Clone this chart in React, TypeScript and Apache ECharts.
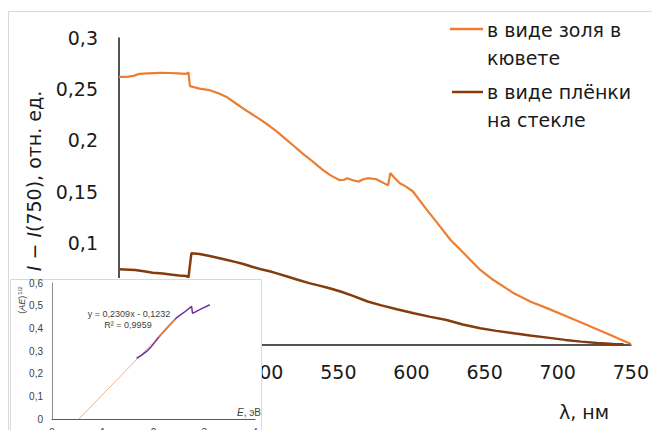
import React, { useEffect, useRef } from "react";
import * as echarts from "echarts";

// ---- main chart data ----
const solLambda = [400, 405, 410, 414, 420, 428, 435, 440, 446, 447.5, 448.5, 455, 462, 468, 474, 480, 485, 491, 497, 503, 508, 515, 520, 524, 531, 536, 540, 545, 551, 554, 556, 560, 564, 567, 570, 576, 584, 585.5, 588, 592, 596, 601, 610, 619.6, 626.7, 635.8, 647, 656, 670, 681.5, 693, 706.7, 720, 736, 750];
const solValues = [0.262, 0.262, 0.263, 0.265, 0.2655, 0.266, 0.2658, 0.2655, 0.265, 0.2665, 0.253, 0.2505, 0.249, 0.246, 0.242, 0.236, 0.231, 0.2255, 0.22, 0.214, 0.2085, 0.2, 0.194, 0.189, 0.181, 0.175, 0.1704, 0.1655, 0.161, 0.1615, 0.163, 0.161, 0.1597, 0.162, 0.163, 0.162, 0.156, 0.168, 0.164, 0.158, 0.155, 0.15, 0.133, 0.1157, 0.1026, 0.0896, 0.0733, 0.0635, 0.0505, 0.0423, 0.0358, 0.0277, 0.0196, 0.0098, 0.001];
const filmLambda = [400, 411, 417, 423, 430, 435, 441, 446, 447.5, 449.5, 455, 462, 468, 474, 480, 485, 491, 497, 503, 508, 515, 521.6, 530, 537, 544, 552, 560, 570, 578.8, 590, 601.6, 613, 624, 635, 647, 658, 670, 681, 693, 705, 716, 727, 738, 745];
const filmValues = [0.074, 0.0733, 0.072, 0.0707, 0.0698, 0.069, 0.068, 0.0674, 0.066, 0.0896, 0.089, 0.087, 0.085, 0.083, 0.081, 0.0792, 0.0765, 0.074, 0.072, 0.07, 0.067, 0.064, 0.0605, 0.058, 0.0554, 0.052, 0.048, 0.0425, 0.039, 0.035, 0.031, 0.0275, 0.0244, 0.02, 0.0163, 0.0138, 0.0114, 0.0093, 0.0072, 0.005, 0.0033, 0.002, 0.001, 0.0008];
const seriesNames = ["в виде золя в\nкювете", "в виде плёнки\nна стекле"];
const seriesColors = ["#ED7D31", "#843C0C"];
const yAxisTitle = "{it|I} − {it|I}(750), отн. ед.";
const xAxisTitle = "λ, нм";

// ---- inset data ----
const purpleE = [1.667, 1.76, 1.864, 1.95, 2.02, 2.09, 2.2, 2.3, 2.45, 2.6, 2.75, 2.77, 2.95, 3.11];
const purpleY = [0.268, 0.281, 0.298, 0.318, 0.337, 0.357, 0.385, 0.41, 0.446, 0.47, 0.497, 0.466, 0.487, 0.504];
const fitE = [2.1, 2.2, 2.3, 2.43];
const fitY = [0.362, 0.385, 0.41, 0.44];
const trendE = [0.53, 2.45];
const trendY = [0, 0.443];
const equationText = "y = 0,2309x - 0,1232";
const r2Text = "R² = 0,9959";
const insetYTitle = "({it|AE}){sup|1/2}";
const insetXTitle = "{it|E}, эВ";

const pairs = (xs: number[], ys: number[]) => xs.map((x, i) => [x, ys[i]]);
const comma = (v: number) => String(+(+v).toFixed(2)).replace(".", ",");

const MAIN_FONT = "DejaVu Sans";
const INSET_FONT = "Liberation Sans";

export default function App() {
  const mainRef = useRef<HTMLDivElement>(null);
  const insetRef = useRef<HTMLDivElement>(null);

  useEffect(() => {
    const main = echarts.init(mainRef.current!, null, { renderer: "svg" });
    main.setOption({
      animation: false,
      grid: { left: 119, right: 20, top: 38, bottom: 85 },
      xAxis: {
        type: "value",
        min: 400,
        max: 750,
        interval: 50,
        axisLine: { show: true, onZero: false, lineStyle: { color: "#1a1a1a", width: 1.5 } },
        axisTick: { show: false },
        splitLine: { show: false },
        axisLabel: { fontSize: 19, fontFamily: MAIN_FONT, color: "#1a1a1a", margin: 17 },
      },
      yAxis: {
        type: "value",
        min: 0,
        max: 0.3,
        interval: 0.05,
        axisLine: { show: true, onZero: false, lineStyle: { color: "#1a1a1a", width: 1.5 } },
        axisTick: { show: false },
        splitLine: { show: false },
        axisLabel: { fontSize: 19, fontFamily: MAIN_FONT, color: "#1a1a1a", margin: 21, formatter: comma },
      },
      series: [
        {
          type: "line",
          name: seriesNames[0],
          data: pairs(solLambda, solValues),
          symbol: "none",
          lineStyle: { color: seriesColors[0], width: 2.2 },
          itemStyle: { color: seriesColors[0] },
        },
        {
          type: "line",
          name: seriesNames[1],
          data: pairs(filmLambda, filmValues),
          symbol: "none",
          lineStyle: { color: seriesColors[1], width: 2.5 },
          itemStyle: { color: seriesColors[1] },
        },
      ],
      graphic: [
        {
          type: "rect",
          silent: true,
          shape: { x: 8.5, y: 11.5, width: 700, height: 500 },
          style: { fill: "none", stroke: "#d9d9d9", lineWidth: 1 },
        },
        {
          type: "line",
          shape: { x1: 450, y1: 29, x2: 483, y2: 29 },
          style: { stroke: seriesColors[0], lineWidth: 2.5 },
        },
        {
          type: "text",
          x: 487,
          y: 16,
          style: {
            text: seriesNames[0],
            fontSize: 19,
            fontFamily: MAIN_FONT,
            lineHeight: 28,
            fill: "#1a1a1a",
            verticalAlign: "top",
          },
        },
        {
          type: "line",
          shape: { x1: 452, y1: 92, x2: 483, y2: 92 },
          style: { stroke: seriesColors[1], lineWidth: 2.5 },
        },
        {
          type: "text",
          x: 487,
          y: 78,
          style: {
            text: seriesNames[1],
            fontSize: 19,
            fontFamily: MAIN_FONT,
            lineHeight: 28,
            fill: "#1a1a1a",
            verticalAlign: "top",
          },
        },
        {
          type: "text",
          x: 34,
          y: 181,
          rotation: Math.PI / 2,
          style: {
            text: yAxisTitle,
            fontSize: 19,
            fontFamily: MAIN_FONT,
            fill: "#1a1a1a",
            align: "center",
            verticalAlign: "middle",
            rich: { it: { fontSize: 19, fontFamily: MAIN_FONT, fontStyle: "italic", fill: "#1a1a1a" } },
          },
        },
        {
          type: "text",
          x: 584,
          y: 412,
          style: {
            text: xAxisTitle,
            fontSize: 19,
            fontFamily: MAIN_FONT,
            fill: "#1a1a1a",
            align: "center",
            verticalAlign: "middle",
          },
        },
      ],
    });

    const inset = echarts.init(insetRef.current!, null, { renderer: "svg" });
    inset.setOption({
      animation: false,
      backgroundColor: "#ffffff",
      grid: { left: 42, right: 7, top: 5, bottom: 29 },
      xAxis: {
        type: "value",
        min: 0,
        max: 4,
        interval: 1,
        axisLine: { show: true, onZero: false, lineStyle: { color: "#595959", width: 1 } },
        axisTick: { show: false },
        splitLine: { show: false },
        axisLabel: { fontSize: 10, fontFamily: INSET_FONT, color: "#404040", margin: 8 },
      },
      yAxis: {
        type: "value",
        min: 0,
        max: 0.6,
        interval: 0.1,
        axisLine: { show: true, onZero: false, lineStyle: { color: "#8c8c8c", width: 1 } },
        axisTick: { show: false },
        splitLine: { show: false },
        axisLabel: { fontSize: 10, fontFamily: INSET_FONT, color: "#404040", margin: 9, formatter: comma },
      },
      series: [
        {
          type: "line",
          data: pairs(trendE, trendY),
          symbol: "none",
          lineStyle: { color: "#F4B183", width: 1 },
        },
        {
          type: "line",
          data: pairs(purpleE, purpleY),
          symbol: "none",
          lineStyle: { color: "#7030A0", width: 1.5 },
        },
        {
          type: "line",
          data: pairs(fitE, fitY),
          symbol: "none",
          lineStyle: { color: "#ED7D31", width: 1.5 },
        },
      ],
      graphic: [
        {
          type: "rect",
          silent: true,
          shape: { x: 0.5, y: 1.5, width: 251, height: 200 },
          style: { fill: "none", stroke: "#d9d9d9", lineWidth: 1 },
        },
        {
          type: "text",
          x: 12,
          y: 22,
          rotation: Math.PI / 2,
          style: {
            text: insetYTitle,
            fontSize: 9,
            fontFamily: INSET_FONT,
            fill: "#404040",
            align: "center",
            verticalAlign: "middle",
            rich: {
              it: { fontSize: 9, fontFamily: INSET_FONT, fontStyle: "italic", fill: "#404040" },
              sup: { fontSize: 6, fontFamily: INSET_FONT, fill: "#404040", verticalAlign: "top", padding: [0, 0, 5, 1] },
            },
          },
        },
        {
          type: "text",
          x: 251,
          y: 134,
          style: {
            text: insetXTitle,
            fontSize: 10,
            fontFamily: INSET_FONT,
            fill: "#404040",
            align: "right",
            verticalAlign: "middle",
            rich: { it: { fontSize: 10, fontFamily: INSET_FONT, fontStyle: "italic", fill: "#404040" } },
          },
        },
        {
          type: "text",
          x: 119,
          y: 36,
          style: {
            text: equationText,
            fontSize: 9,
            fontFamily: INSET_FONT,
            fill: "#404040",
            align: "center",
            verticalAlign: "middle",
          },
        },
        {
          type: "text",
          x: 118,
          y: 47,
          style: {
            text: r2Text,
            fontSize: 9,
            fontFamily: INSET_FONT,
            fill: "#404040",
            align: "center",
            verticalAlign: "middle",
          },
        },
      ],
    });

    return () => {
      main.dispose();
      inset.dispose();
    };
  }, []);

  return (
    <>
      <div
        ref={mainRef}
        style={{ position: "fixed", left: 0, top: 0, width: 652, height: 430, background: "#ffffff", zIndex: 1 }}
      />
      <div
        ref={insetRef}
        style={{ position: "fixed", left: 10, top: 278, width: 252, height: 170, zIndex: 2 }}
      />
    </>
  );
}
